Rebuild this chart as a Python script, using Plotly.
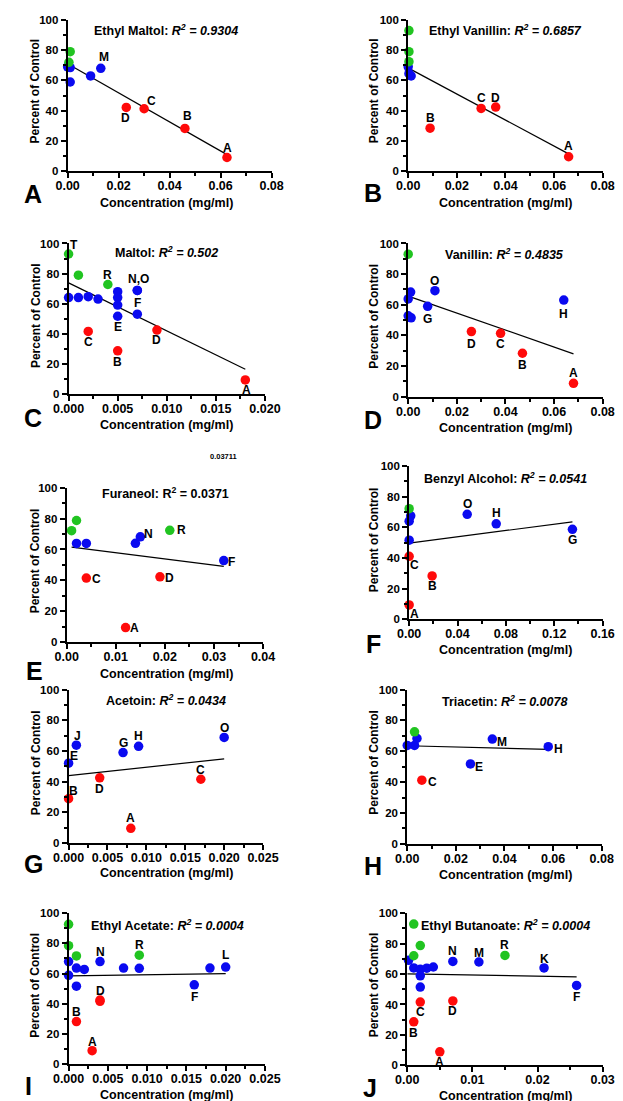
import plotly.graph_objects as go

W, H = 623, 1101
FONT = "Liberation Sans, Arial, sans-serif"
COLORS = {"g": "#21C421", "b": "#0A0AF0", "r": "#FF0A0A"}

# ---------------- data ----------------
COMPOUNDS = ["Ethyl Maltol", "Ethyl Vanillin", "Maltol", "Vanillin", "Furaneol",
             "Benzyl Alcohol", "Acetoin", "Triacetin", "Ethyl Acetate", "Ethyl Butanoate"]
R2 = ["0.9304", "0.6857", "0.502", "0.4835", "0.0371", "0.0541", "0.0434", "0.0078", "0.0004", "0.0004"]
PANEL_LETTERS = ["A", "B", "C", "D", "E", "F", "G", "H", "I", "J"]

A_conc = [0.001, 0.0005, 0.0, 0.001, 0.001, 0.009, 0.013, 0.023, 0.030, 0.046, 0.0625]
A_pct = [79, 72, 69, 68.5, 59, 63, 68, 42.2, 41.3, 28.3, 9.1]
A_group = ["g", "g", "b", "b", "b", "b", "b", "r", "r", "r", "r"]
A_label = ["", "", "", "", "", "", "M", "D", "C", "B", "A"]
A_fit_x = [0.001, 0.0625]
A_fit_y = [70, 11]

B_conc = [0.0003, 0.0003, 0.0003, 0.0, 0.0003, 0.0012, 0.009, 0.030, 0.036, 0.066]
B_pct = [93, 79, 72.4, 69, 64.5, 63, 28.5, 41.5, 42.4, 9.6]
B_group = ["g", "g", "g", "b", "b", "b", "r", "r", "r", "r"]
B_label = ["", "", "", "", "", "", "B", "C", "D", "A"]
B_fit_x = [0.0003, 0.066]
B_fit_y = [68, 11.5]

C_conc = [0, 0.001, 0.004, 0, 0.001, 0.002, 0.003, 0.005, 0.005, 0.005, 0.005,
          0.007, 0.007, 0.007, 0.002, 0.005, 0.009, 0.018]
C_pct = [93, 78.9, 72.7, 64, 64, 64.6, 63, 67.9, 64, 59, 51.6, 68.8, 68.8, 53,
         41.5, 28.6, 42.4, 9.2]
C_group = ["g", "g", "g", "b", "b", "b", "b", "b", "b", "b", "b", "b", "b", "b",
           "r", "r", "r", "r"]
C_label = ["T", "", "R", "", "", "", "", "", "", "", "E", "N,O", "", "F", "C", "B", "D", "A"]
C_fit_x = [0, 0.018]
C_fit_y = [73.8, 16.3]

D_conc = [0, 0, 0.001, 0, 0.0012, 0.008, 0.011, 0.064, 0.026, 0.038, 0.047, 0.068]
D_pct = [93, 63.8, 68.3, 52.8, 51.5, 59, 69.2, 63.1, 42.5, 41.4, 28.4, 8.8]
D_group = ["g", "b", "b", "b", "b", "b", "b", "b", "r", "r", "r", "r"]
D_label = ["", "", "", "", "", "G", "O", "H", "D", "C", "B", "A"]
D_fit_x = [0, 0.068]
D_fit_y = [65.7, 28]

E_conc = [0.001, 0.002, 0.021, 0.002, 0.004, 0.014, 0.015, 0.032, 0.004, 0.019, 0.012]
E_pct = [72.2, 78.8, 72.4, 63.9, 63.9, 64, 68.2, 52.8, 41.5, 42.3, 9.4]
E_group = ["g", "g", "g", "b", "b", "b", "b", "b", "r", "r", "r"]
E_label = ["", "", "R", "", "", "", "N", "F", "C", "D", "A"]
E_fit_x = [0.001, 0.032]
E_fit_y = [61.5, 49.1]
E_note = "0.03711"

F_conc = [0, 0.0013, 0, 0, 0.048, 0.072, 0.135, 0, 0, 0.019]
F_pct = [72.2, 67.5, 64, 51.6, 68.5, 62.3, 58.7, 41.1, 9.4, 28.3]
F_group = ["g", "b", "b", "b", "b", "b", "b", "r", "r", "r"]
F_label = ["", "", "", "", "O", "H", "G", "C", "A", "B"]
F_fit_x = [0, 0.135]
F_fit_y = [49.7, 63.6]

G_conc = [0, 0.001, 0.007, 0.009, 0.020, 0, 0.004, 0.008, 0.017]
G_pct = [52, 63.7, 58.9, 63, 68.8, 28.8, 42.4, 9.5, 41.5]
G_group = ["b", "b", "b", "b", "b", "r", "r", "r", "r"]
G_label = ["E", "J", "G", "H", "O", "B", "D", "A", "C"]
G_fit_x = [0, 0.020]
G_fit_y = [43.9, 54.8]

H_conc = [0.003, 0, 0.003, 0.004, 0.026, 0.035, 0.058, 0.006]
H_pct = [72.6, 63.8, 63.8, 68.3, 51.8, 67.9, 63, 41.3]
H_group = ["g", "b", "b", "b", "b", "b", "b", "r"]
H_label = ["", "", "", "", "E", "M", "H", "C"]
H_fit_x = [0, 0.058]
H_fit_y = [63.6, 61.2]

I_conc = [0, 0, 0.001, 0.009, 0, 0, 0.001, 0.002, 0.001, 0.004, 0.007, 0.009, 0.016,
          0.018, 0.020, 0.001, 0.004, 0.004, 0.003]
I_pct = [92.6, 78.5, 71.7, 72.2, 68, 58.9, 63.7, 62.8, 51.7, 68, 63.7, 63.5, 52.6,
         63.7, 64.3, 28.3, 41.7, 42.5, 9.1]
I_group = ["g"] * 4 + ["b"] * 11 + ["r"] * 4
I_label = ["", "", "", "R", "", "", "", "", "", "N", "", "", "F", "", "L", "B", "D", "", "A"]
I_fit_x = [0, 0.020]
I_fit_y = [58.5, 60]

J_conc = [0.001, 0.001, 0.002, 0.015, 0.0002, 0.001, 0.002, 0.002, 0.002, 0.003, 0.004,
          0.007, 0.011, 0.021, 0.026, 0.001, 0.002, 0.007, 0.005]
J_pct = [92.8, 72, 78.7, 72.2, 69, 64, 63.1, 58.8, 51.4, 63.8, 64.6, 68.3, 67.9, 64,
         52.5, 28.6, 41.6, 42.3, 8.9]
J_group = ["g"] * 4 + ["b"] * 11 + ["r"] * 4
J_label = ["", "", "", "R", "", "", "", "", "", "", "", "N", "M", "K", "F", "B", "C", "D", "A"]
J_fit_x = [0, 0.026]
J_fit_y = [60.1, 58.1]

X_TICKS = [
    [0, 0.02, 0.04, 0.06, 0.08],
    [0, 0.02, 0.04, 0.06, 0.08],
    [0, 0.005, 0.010, 0.015, 0.020],
    [0, 0.02, 0.04, 0.06, 0.08],
    [0, 0.01, 0.02, 0.03, 0.04],
    [0, 0.04, 0.08, 0.12, 0.16],
    [0, 0.005, 0.010, 0.015, 0.020, 0.025],
    [0, 0.02, 0.04, 0.06, 0.08],
    [0, 0.005, 0.010, 0.015, 0.020, 0.025],
    [0, 0.01, 0.02, 0.03],
]
Y_TICKS = [0, 20, 40, 60, 80, 100]

DATA = [
    (A_conc, A_pct, A_group, A_label, A_fit_x, A_fit_y),
    (B_conc, B_pct, B_group, B_label, B_fit_x, B_fit_y),
    (C_conc, C_pct, C_group, C_label, C_fit_x, C_fit_y),
    (D_conc, D_pct, D_group, D_label, D_fit_x, D_fit_y),
    (E_conc, E_pct, E_group, E_label, E_fit_x, E_fit_y),
    (F_conc, F_pct, F_group, F_label, F_fit_x, F_fit_y),
    (G_conc, G_pct, G_group, G_label, G_fit_x, G_fit_y),
    (H_conc, H_pct, H_group, H_label, H_fit_x, H_fit_y),
    (I_conc, I_pct, I_group, I_label, I_fit_x, I_fit_y),
    (J_conc, J_pct, J_group, J_label, J_fit_x, J_fit_y),
]

# ---------------- layout / style ----------------
# plot area in pixels: (x0, x1, ytop, ybottom)
BOX = [
    (46, 261, 6, 159), (405, 610, 6, 159),
    (47, 254, 232, 384), (405, 610, 232, 387),
    (45, 252, 479, 635), (406, 610, 457, 612),
    (47, 252, 683, 838), (404, 609, 683, 839),
    (47, 254, 909, 1062), (404, 610, 909, 1063),
]
TICKFMT = [".2f", ".2f", ".3f", ".2f", ".2f", ".2f", ".3f", ".2f", ".3f", ".2f"]
MINOR = [0.01, 0.01, 0.0025, 0.01, 0.005, 0.02, 0.0025, 0.01, 0.0025, 0.005]
TITLE_POS = [(150, 16), (508, 16), (150, 241), (507, 243), (149, 484),
             (508, 469), (150, 694), (507, 695), (151, 921), (508, 921)]
LETTER_POS = [(10, 182), (368, 181), (9, 408), (368, 410), (11, 664),
              (368, 637), (10, 859), (368, 861), (5, 1084), (365, 1086)]
XTITLE_POS = [(150, 191), (508, 191), (150, 416), (508, 419), (150, 667),
              (508, 643), (150, 868), (508, 870), (150, 1093), (508, 1094)]
YTITLE_POS = [(12, 78), (369, 78), (12, 305), (369, 306), (12, 553),
              (369, 532), (12, 757), (369, 757), (12, 982), (369, 982)]
LABEL_OFF = [
    {"M": (3, -11), "D": (-1, 11), "C": (7, -8), "B": (3, -12), "A": (1, -9)},
    {"B": (0, -10), "C": (0, -10), "D": (0, -9), "A": (0, -11)},
    {"T": (5, -9), "R": (0, -10), "N,O": (1, -11), "F": (0, -11), "E": (0, 11),
     "C": (0, 11), "B": (0, 11), "D": (0, 10), "A": (1, 10)},
    {"O": (0, -10), "G": (0, 13), "H": (0, 14), "D": (0, 12), "C": (0, 11),
     "B": (0, 12), "A": (0, -10)},
    {"N": (8, -3), "R": (12, 0), "F": (8, 1), "C": (10, 1), "D": (10, 1), "A": (9, 0)},
    {"O": (0, -10), "H": (0, -11), "G": (0, 11), "C": (5, 9), "B": (0, 10), "A": (5, 9)},
    {"J": (1, -9), "E": (5, -7), "G": (0, -10), "H": (0, -10), "O": (0, -9),
     "B": (5, -8), "D": (0, 11), "A": (0, -10), "C": (0, -9)},
    {"M": (10, 3), "H": (10, 2), "E": (9, 3), "C": (11, 2)},
    {"N": (0, -10), "R": (0, -10), "L": (0, -12), "F": (0, 12), "D": (0, -10),
     "B": (0, -10), "A": (0, -9)},
    {"N": (0, -10), "M": (0, -9), "R": (0, -10), "K": (0, -9), "F": (0, 12),
     "C": (0, 10), "D": (0, 10), "B": (0, 11), "A": (0, 10)},
]
ITALIC_R2 = [True, True, True, True, False, True, True, True, True, True]


def px_x(px):
    return px / W


def px_y(py):
    return 1 - py / H


fig = go.Figure()
layout = dict(width=W, height=H, margin=dict(l=0, r=0, t=0, b=0),
              paper_bgcolor="white", plot_bgcolor="white", showlegend=False,
              font=dict(family=FONT, color="black"))
annotations = []

for i, (conc, pct, grp, lab, fx, fy) in enumerate(DATA):
    n = "" if i == 0 else str(i + 1)
    xa, ya = "x" + n, "y" + n
    x0, x1, yt, yb = BOX[i]
    ticks = X_TICKS[i]
    axis_common = dict(showline=True, linewidth=2, linecolor="black", ticks="outside",
                       ticklen=5, tickwidth=2, tickcolor="black", showgrid=False,
                       zeroline=False, fixedrange=True)
    layout["xaxis" + n] = dict(
        domain=[px_x(x0), px_x(x1)], anchor=ya, range=[0, ticks[-1]],
        tickmode="array", tickvals=ticks, tickformat=TICKFMT[i],
        ticklabelstandoff=-3,
        tickfont=dict(size=12.5, family=FONT, weight="bold"),
        minor=dict(tickmode="linear", tick0=0, dtick=MINOR[i], ticklen=3,
                   tickwidth=1.5, tickcolor="black", ticks="outside"),
        **axis_common)
    layout["yaxis" + n] = dict(
        domain=[px_y(yb), px_y(yt)], anchor=xa, range=[0, 100],
        tickmode="array", tickvals=Y_TICKS,
        tickfont=dict(size=11.5, family=FONT, weight="bold"),
        minor=dict(tickmode="linear", tick0=0, dtick=10, ticklen=3,
                   tickwidth=1.5, tickcolor="black", ticks="outside"),
        **axis_common)

    # regression line
    fig.add_trace(go.Scatter(x=fx, y=fy, mode="lines", xaxis=xa, yaxis=ya,
                             line=dict(color="black", width=1.2), hoverinfo="skip"))
    # points by group
    for g in ["b", "g", "r"]:
        xs = [c for c, gg in zip(conc, grp) if gg == g]
        ys = [p for p, gg in zip(pct, grp) if gg == g]
        if xs:
            fig.add_trace(go.Scatter(x=xs, y=ys, mode="markers", xaxis=xa, yaxis=ya,
                                     cliponaxis=False,
                                     marker=dict(color=COLORS[g], size=9.5, line=dict(width=0))))
    # point labels
    for c, p, l in zip(conc, pct, lab):
        if not l:
            continue
        dx, dy = LABEL_OFF[i].get(l, (0, -10))
        annotations.append(dict(x=c, y=p, xref=xa, yref=ya, text="<b>%s</b>" % l,
                                showarrow=False, xanchor="center", yanchor="middle",
                                xshift=dx, yshift=-dy,
                                font=dict(size=12, family=FONT, color="black")))
    # panel title
    r2txt = "R<sup>2</sup> = %s" % R2[i]
    if ITALIC_R2[i]:
        r2txt = "<i>%s</i>" % r2txt
    tx, ty = TITLE_POS[i]
    annotations.append(dict(x=px_x(tx), y=px_y(ty), xref="paper", yref="paper",
                            text="<b>%s: %s</b>" % (COMPOUNDS[i], r2txt), showarrow=False,
                            xanchor="center", yanchor="middle",
                            font=dict(size=12.5, family=FONT, color="black")))
    # panel letter
    lx, ly = LETTER_POS[i]
    annotations.append(dict(x=px_x(lx), y=px_y(ly), xref="paper", yref="paper",
                            text="<b>%s</b>" % PANEL_LETTERS[i], showarrow=False,
                            xanchor="center", yanchor="middle",
                            font=dict(size=25, family=FONT, color="black")))
    # axis titles
    ax_, ay_ = XTITLE_POS[i]
    annotations.append(dict(x=px_x(ax_), y=px_y(ay_), xref="paper", yref="paper",
                            text="<b>Concentration (mg/ml)</b>", showarrow=False,
                            xanchor="center", yanchor="middle",
                            font=dict(size=12.5, family=FONT, color="black")))
    vx, vy = YTITLE_POS[i]
    annotations.append(dict(x=px_x(vx), y=px_y(vy), xref="paper", yref="paper",
                            text="<b>Percent of Control</b>", showarrow=False, textangle=-90,
                            xanchor="center", yanchor="middle",
                            font=dict(size=12, family=FONT, color="black")))

annotations.append(dict(x=px_x(210), y=px_y(447), xref="paper", yref="paper",
                        text="<b>%s</b>" % E_note, showarrow=False,
                        xanchor="center", yanchor="middle",
                        font=dict(size=7.5, family=FONT, color="black")))

layout["annotations"] = annotations
fig.update_layout(**layout)
fig.write_html("out.html")
